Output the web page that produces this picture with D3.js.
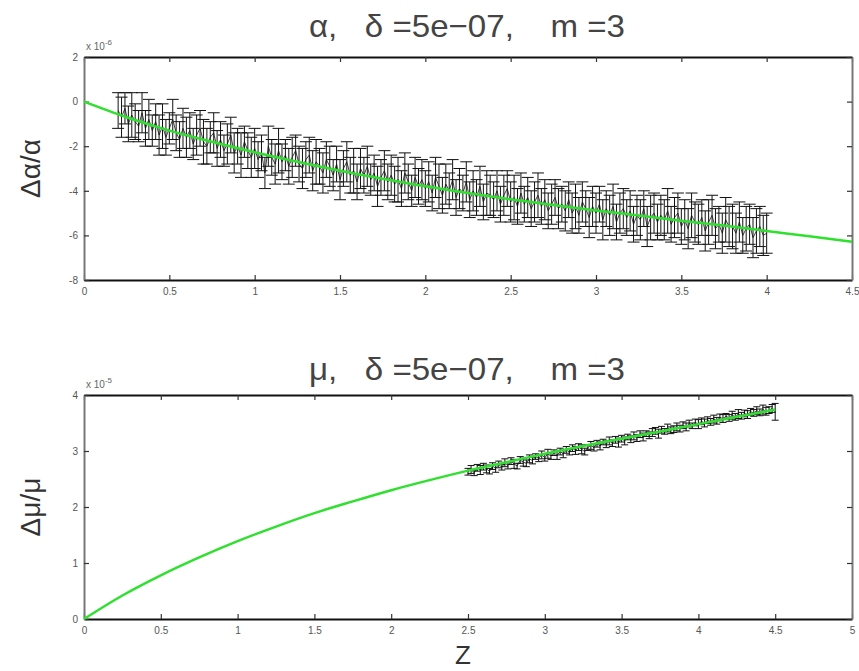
<!DOCTYPE html>
<html>
<head>
<meta charset="utf-8">
<script src="https://cdn.jsdelivr.net/npm/d3@7"></script>
<style>
  body { margin: 0; background: #fff; }
  svg text { font-family: "Liberation Sans", Arial, sans-serif; }
</style>
</head>
<body>
<div id="chart"></div>
<script>
// ---- data: alpha panel (units of 1e-6) ----
const alphaZStart = 0.2;
const alphaZStep = 0.02;
const alphaValues = [
  -0.4,-0.7,-0.3,-1.0,-0.6,-0.9,-1.1,-0.5,-1.2,-0.8,
  -1.3,-0.9,-1.5,-1.1,-1.6,-1.2,-0.8,-1.4,-1.7,-1.2,
  -1.6,-1.3,-1.9,-1.5,-1.2,-1.8,-2.0,-1.6,-1.4,-2.1,
  -1.7,-2.2,-1.9,-1.5,-2.3,-2.0,-2.4,-1.8,-2.2,-2.5,
  -2.1,-2.6,-2.3,-3.2,-2.0,-2.5,-2.8,-2.2,-2.7,-2.4,
  -2.9,-2.5,-2.2,-2.8,-3.0,-2.6,-2.4,-3.1,-2.7,-2.9,
  -3.2,-2.6,-2.9,-3.3,-2.8,-3.5,-3.0,-2.7,-3.3,-3.1,
  -3.6,-3.0,-3.3,-2.9,-3.5,-3.2,-3.8,-3.4,-3.1,-3.6,
  -3.3,-3.7,-3.5,-3.9,-3.2,-3.6,-4.0,-3.4,-3.8,-3.5,
  -3.9,-3.6,-4.1,-3.4,-3.8,-4.2,-3.7,-4.0,-3.5,-4.3,
  -3.9,-4.1,-3.6,-4.4,-4.0,-4.3,-3.8,-4.5,-4.1,-4.2,
  -4.4,-4.0,-4.6,-4.2,-3.9,-4.5,-4.3,-4.7,-4.1,-4.6,
  -4.3,-4.8,-4.5,-4.2,-4.7,-4.4,-4.9,-4.6,-4.3,-4.8,
  -4.6,-4.9,-4.4,-5.0,-4.7,-5.1,-4.5,-4.8,-5.2,-4.7,
  -5.0,-4.6,-5.3,-4.8,-5.1,-4.7,-5.4,-5.0,-4.8,-5.2,
  -4.9,-5.5,-5.1,-5.3,-4.8,-5.6,-5.2,-5.0,-5.4,-5.1,
  -5.3,-4.9,-5.5,-5.2,-5.0,-5.6,-5.3,-5.7,-5.1,-5.4,
  -5.5,-5.2,-5.8,-5.4,-5.1,-5.7,-5.5,-5.9,-5.3,-5.6,
  -5.6,-5.9,-5.4,-6.0,-5.7,-5.5,-6.1,-5.8,-5.6,-6.0,
  -5.9
];
const alphaErrors = [
  0.8,0.9,0.7,0.8,1.0,0.8,0.7,0.9,0.8,0.9,
  0.7,0.8,0.9,1.0,0.8,0.7,0.9,0.8,0.8,0.9,
  0.9,0.8,0.7,0.9,0.8,1.0,0.8,0.7,0.9,0.8,
  0.8,0.7,0.9,0.8,0.9,0.8,1.0,0.7,0.8,0.9,
  0.9,0.8,0.8,0.7,0.9,0.8,0.9,1.0,0.8,0.7,
  0.8,0.9,0.7,0.8,0.9,0.8,0.8,0.9,1.0,0.8,
  0.9,0.8,0.9,0.7,0.8,0.9,0.8,0.9,0.8,1.0,
  0.8,0.9,0.8,0.9,0.7,0.8,0.9,0.8,0.9,0.8,
  0.9,0.8,1.0,0.8,0.9,0.8,0.7,0.9,0.8,0.9,
  0.8,0.9,0.8,0.9,1.0,0.8,0.9,0.8,0.9,0.8,
  0.9,0.8,0.9,0.8,0.9,0.8,0.9,0.8,1.0,0.9,
  0.8,0.9,0.8,0.9,0.8,0.9,1.0,0.8,0.9,0.8,
  0.9,0.8,0.9,1.0,0.8,0.9,0.8,0.9,0.8,0.9,
  0.8,0.9,0.8,0.9,1.0,0.8,0.9,0.8,0.9,0.9,
  0.9,0.8,0.9,0.8,0.9,1.0,0.8,0.9,0.9,0.8,
  0.9,0.8,0.9,0.9,0.8,0.9,1.0,0.9,0.8,0.9,
  0.9,1.0,0.8,0.9,0.9,0.8,0.9,0.9,1.0,0.9,
  0.9,0.8,0.9,1.0,0.9,0.9,0.8,0.9,1.0,0.9,
  1.0,0.9,0.9,0.8,1.0,0.9,0.9,1.0,0.9,0.9,
  0.9
];
const alphaFitZ = [0,0.25,0.5,0.75,1,1.25,1.5,1.75,2,2.25,2.5,2.75,3,3.25,3.5,3.75,4,4.25,4.5];
const alphaFit = [0,-0.7,-1.3,-1.8,-2.27,-2.7,-3.1,-3.46,-3.8,-4.1,-4.38,-4.64,-4.88,-5.11,-5.34,-5.56,-5.8,-6.04,-6.28];
const alphaXTicks = [0,0.5,1,1.5,2,2.5,3,3.5,4,4.5];
const alphaYTicks = [-8,-6,-4,-2,0,2];

// ---- data: mu panel (units of 1e-5) ----
const muZStart = 2.5;
const muZStep = 0.02;
const muValues = [
  2.63,2.67,2.61,2.70,2.66,2.72,2.68,2.64,2.73,2.69,
  2.76,2.71,2.79,2.74,2.82,2.77,2.73,2.84,2.80,2.78,
  2.86,2.83,2.90,2.87,2.93,2.88,2.95,2.91,2.97,2.92,
  2.99,2.95,3.02,2.98,3.05,3.01,3.07,3.03,2.99,3.06,
  3.10,3.06,3.13,3.09,3.16,3.12,3.18,3.14,3.20,3.15,
  3.22,3.18,3.25,3.21,3.27,3.23,3.30,3.25,3.31,3.28,
  3.33,3.36,3.31,3.38,3.35,3.41,3.37,3.39,3.43,3.40,
  3.46,3.43,3.49,3.45,3.51,3.48,3.53,3.50,3.55,3.52,
  3.57,3.54,3.60,3.58,3.62,3.59,3.64,3.61,3.66,3.63,
  3.67,3.65,3.70,3.68,3.72,3.69,3.74,3.71,3.73,3.76,
  3.70
];
const muErrors = [
  0.06,0.07,0.05,0.06,0.08,0.06,0.07,0.05,0.06,0.07,
  0.06,0.05,0.07,0.06,0.06,0.08,0.05,0.06,0.07,0.06,
  0.07,0.06,0.05,0.06,0.07,0.06,0.08,0.06,0.05,0.07,
  0.06,0.07,0.06,0.05,0.06,0.07,0.06,0.08,0.06,0.05,
  0.07,0.06,0.06,0.07,0.05,0.06,0.07,0.06,0.06,0.08,
  0.06,0.07,0.05,0.06,0.07,0.06,0.06,0.07,0.05,0.06,
  0.07,0.06,0.08,0.06,0.05,0.07,0.06,0.06,0.07,0.06,
  0.06,0.07,0.06,0.05,0.06,0.08,0.06,0.07,0.06,0.06,
  0.07,0.06,0.06,0.07,0.05,0.06,0.07,0.06,0.08,0.06,
  0.06,0.07,0.06,0.06,0.07,0.06,0.08,0.07,0.06,0.07,
  0.15
];
const muFitZ = [0,0.25,0.5,0.75,1,1.25,1.5,1.75,2,2.25,2.5,2.75,3,3.25,3.5,3.75,4,4.25,4.5];
const muFit = [0,0.42,0.78,1.1,1.39,1.65,1.89,2.1,2.3,2.48,2.65,2.8,2.95,3.09,3.22,3.35,3.48,3.61,3.74];
const muXTicks = [0,0.5,1,1.5,2,2.5,3,3.5,4,4.5,5];
const muYTicks = [0,1,2,3,4];

const width = 859, height = 671;
const svg = d3.select("#chart").append("svg")
  .attr("width", width)
  .attr("height", height);

function drawPanel(cfg) {
  const x = d3.scaleLinear().domain(cfg.xDomain).range([84, 852]);
  const y = d3.scaleLinear().domain(cfg.yDomain).range([cfg.bottom, cfg.top]);
  const g = svg.append("g");

  // axes: matlab style box, ticks pointing in
  const fmt = d => String(d);
  const bottomAx = g.append("g")
    .attr("transform", "translate(0," + cfg.bottom + ")")
    .call(d3.axisBottom(x).tickValues(cfg.xTicks).tickSize(-5).tickSizeOuter(0).tickPadding(8).tickFormat(fmt));
  const topAx = g.append("g")
    .attr("transform", "translate(0," + cfg.top + ")")
    .call(d3.axisTop(x).tickValues(cfg.xTicks).tickSize(-5).tickSizeOuter(0).tickFormat(""));
  const leftAx = g.append("g")
    .attr("transform", "translate(84,0)")
    .call(d3.axisLeft(y).tickValues(cfg.yTicks).tickSize(-5).tickSizeOuter(0).tickPadding(6).tickFormat(fmt));
  const rightAx = g.append("g")
    .attr("transform", "translate(852,0)")
    .call(d3.axisRight(y).tickValues(cfg.yTicks).tickSize(-5).tickSizeOuter(0).tickFormat(""));

  [bottomAx, topAx].forEach(a => a.select(".domain").attr("stroke", "#111").attr("stroke-width", 2));
  [leftAx, rightAx].forEach(a => a.select(".domain").attr("stroke", "#777").attr("stroke-width", 2));
  [bottomAx, topAx, leftAx, rightAx].forEach(a => a.selectAll(".tick line").attr("stroke", "#333").attr("stroke-width", 1.2));
  [bottomAx, leftAx].forEach(a => a.selectAll(".tick text")
    .attr("fill", "#555").style("font-size", "10px"));

  // exponent label
  const ex = g.append("text")
    .attr("x", 86).attr("y", cfg.top - 7)
    .attr("fill", "#666").style("font-size", "10px")
    .text("x 10");
  ex.append("tspan").attr("dy", -5).style("font-size", "8px").text(cfg.exponent);

  // error bars
  const pts = cfg.values.map((v, i) => ({ z: cfg.zStart + i * cfg.zStep, v: v, e: cfg.errors[i] }));
  const bars = g.append("g").attr("stroke", "#111").attr("stroke-width", 1);
  pts.forEach(p => {
    const cx = x(p.z);
    bars.append("line").attr("x1", cx).attr("x2", cx).attr("y1", y(p.v - p.e)).attr("y2", y(p.v + p.e));
    bars.append("line").attr("x1", cx - cfg.cap).attr("x2", cx + cfg.cap).attr("y1", y(p.v - p.e)).attr("y2", y(p.v - p.e));
    bars.append("line").attr("x1", cx - cfg.cap).attr("x2", cx + cfg.cap).attr("y1", y(p.v + p.e)).attr("y2", y(p.v + p.e));
  });
  g.append("path")
    .datum(pts)
    .attr("fill", "none")
    .attr("stroke", "#111")
    .attr("stroke-width", 0.8)
    .attr("d", d3.line().x(d => x(d.z)).y(d => y(d.v)));

  // fit curve
  const fitPts = cfg.fitZ.map((z, i) => ({ z: z, v: cfg.fit[i] }));
  g.append("path")
    .datum(fitPts)
    .attr("fill", "none")
    .attr("stroke", "#2fe02f")
    .attr("stroke-width", 2.5)
    .attr("d", d3.line().curve(d3.curveMonotoneX).x(d => x(d.z)).y(d => y(d.v)));

  // title (narrow helvetica look)
  g.append("text")
    .attr("x", 467).attr("y", cfg.titleY)
    .attr("text-anchor", "middle")
    .attr("fill", "#444").style("font-size", "32px")
    .attr("textLength", 316)
    .attr("lengthAdjust", "spacingAndGlyphs")
    .style("white-space", "pre")
    .text(cfg.title);

  // y label
  g.append("text")
    .attr("transform", "translate(40," + ((cfg.top + cfg.bottom) / 2) + ") rotate(-90)")
    .attr("text-anchor", "middle")
    .attr("fill", "#333").style("font-size", "28px")
    .text(cfg.ylabel);
}

drawPanel({
  xDomain: [0, 4.5], yDomain: [-8, 2], top: 57, bottom: 280, titleY: 37,
  xTicks: alphaXTicks, yTicks: alphaYTicks,
  values: alphaValues, errors: alphaErrors, zStart: alphaZStart, zStep: alphaZStep,
  fitZ: alphaFitZ, fit: alphaFit, cap: 6,
  exponent: "-6", title: "\u03b1,   \u03b4 =5e\u221207,    m =3", ylabel: "\u0394\u03b1/\u03b1"
});

drawPanel({
  xDomain: [0, 5], yDomain: [0, 4], top: 395, bottom: 619, titleY: 380,
  xTicks: muXTicks, yTicks: muYTicks,
  values: muValues, errors: muErrors, zStart: muZStart, zStep: muZStep,
  fitZ: muFitZ, fit: muFit, cap: 3.5,
  exponent: "-5", title: "\u03bc,   \u03b4 =5e\u221207,    m =3", ylabel: "\u0394\u03bc/\u03bc"
});

// x label
svg.append("text")
  .attr("x", 463).attr("y", 664)
  .attr("text-anchor", "middle")
  .attr("fill", "#333").style("font-size", "26px")
  .text("Z");
</script>
</body>
</html>
